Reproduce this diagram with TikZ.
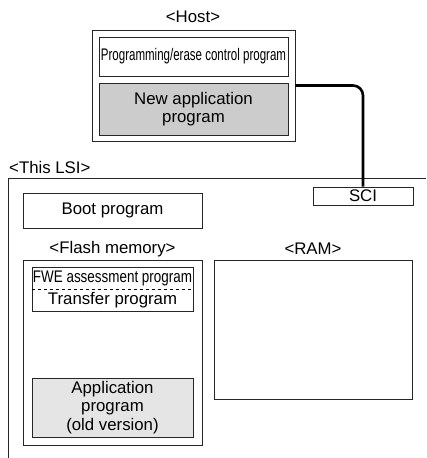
\documentclass[tikz,border=0pt]{standalone}
\usepackage{fontspec}
\setmainfont{Liberation Sans}
\begin{document}
\begin{tikzpicture}[x=1pt,y=-1pt,
  every node/.style={font=\fontsize{16.8}{18.5}\selectfont},
  box/.style={draw=black!85, line width=0.8pt, inner sep=0pt, align=center},
  lbl/.style={inner sep=0pt, align=center},
  frame/.style={draw=black!85, line width=0.8pt},
  link/.style={line width=2.6pt, rounded corners=10pt}]
\useasboundingbox (0,0) rectangle (426,458);
% Host
\node[lbl] (hostlbl) at (193,17) {<Host>};
\node[box, minimum width=203pt, minimum height=111pt] (host) at (193.5,85.5) {};
\node[box, minimum width=189pt, minimum height=39pt] (pec) at (193.5,56.5)
  {\scalebox{0.686}[1]{Programming/erase control program}};
\node[box, fill=black!20, minimum width=189pt, minimum height=52pt] (newapp) at (193.5,109)
  {New application\\program};
% This LSI
\node[lbl, anchor=west] (lsilbl) at (9,167) {<This LSI>};
\coordinate (lsibl) at (8,458);
\coordinate (lsitl) at (8,178);
\coordinate (lsitr) at (426,178);
\draw[frame] (lsibl) -- (lsitl) -- (lsitr);
\node[box, minimum width=100pt, minimum height=18pt] (sci) at (363,196) {SCI};
\node[box, minimum width=179pt, minimum height=35pt] (boot) at (112.5,210.5) {Boot program};
\node[lbl] (flashlbl) at (112.5,249) {<Flash memory>};
\node[lbl] (ramlbl) at (313,249) {<RAM>};
\node[box, minimum width=179pt, minimum height=185pt] (flash) at (112.5,352.5) {};
\node[box, minimum width=161pt, minimum height=44pt] (fwe) at (112.5,289) {};
\draw[dashed, line width=0.6pt] (fwe.west) -- (fwe.east);
\node[lbl] (fwetxt) at (112.5,278) {\scalebox{0.80}[1]{FWE assessment program}};
\node[lbl] (transfer) at (112.5,300.5) {Transfer program};
\node[box, fill=black!10, minimum width=161pt, minimum height=59pt] (app) at (112.5,407.5)
  {Application\\program\\(old version)};
\node[box, minimum width=198pt, minimum height=139pt] (ram) at (313,329.5) {};
% connector
\draw[link] (host.east) -| (sci.north);
\end{tikzpicture}
\end{document}
